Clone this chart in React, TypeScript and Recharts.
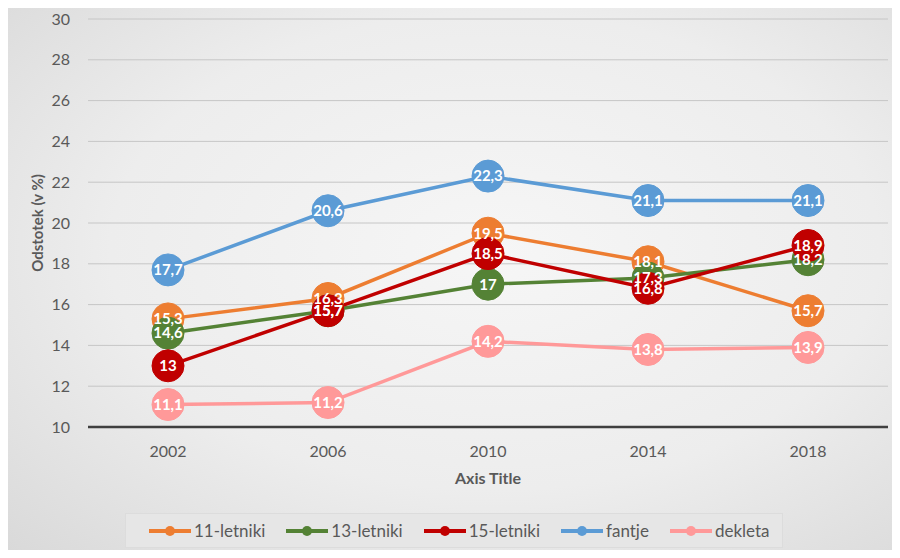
import { LabelList, Line, LineChart, CartesianGrid, XAxis, YAxis } from "recharts";

const years = ["2002", "2006", "2010", "2014", "2018"];
const age11 = [15.3, 16.3, 19.5, 18.1, 15.7];
const age13 = [14.6, 15.7, 17, 17.3, 18.2];
const age15 = [13, 15.7, 18.5, 16.8, 18.9];
const boys = [17.7, 20.6, 22.3, 21.1, 21.1];
const girls = [11.1, 11.2, 14.2, 13.8, 13.9];
const yTicks = [10, 12, 14, 16, 18, 20, 22, 24, 26, 28, 30];

const series = [
  { key: "a11", name: "11-letniki", color: "#ED7D31", values: age11 },
  { key: "a13", name: "13-letniki", color: "#548235", values: age13 },
  { key: "a15", name: "15-letniki", color: "#C00000", values: age15 },
  { key: "boys", name: "fantje", color: "#5B9BD5", values: boys },
  { key: "girls", name: "dekleta", color: "#FF9999", values: girls },
];

const data = years.map((year, i) => {
  const row: Record<string, string | number> = { year };
  series.forEach((s) => {
    row[s.key] = s.values[i];
  });
  return row;
});

const FONT = "Lato, 'Open Sans', sans-serif";
const TEXT = "#595959";

const fmt = (v: unknown) => String(v).replace(".", ",");

export default function App() {
  return (
    <div
      style={{
        position: "relative",
        width: 900,
        height: 558,
        margin: -8,
        fontFamily: FONT,
        background:
          "radial-gradient(ellipse at 55% 45%, #f6f6f6 0%, #ededed 55%, #d8d8d8 100%)",
        overflow: "hidden",
      }}
    >
      <LineChart
        width={900}
        height={558}
        data={data}
        margin={{ top: 19, right: 12, left: 28, bottom: 73 }}
        style={{ position: "absolute", left: 0, top: 0 }}
      >
        <CartesianGrid vertical={false} stroke="#c6c6c6" strokeWidth={1} />
        <XAxis
          dataKey="year"
          height={58}
          padding={{ left: 80, right: 80 }}
          tickLine={false}
          axisLine={{ stroke: "#3f3f3f", strokeWidth: 2.5 }}
          tickMargin={13}
          tick={{ fill: TEXT, fontSize: 16, fontFamily: FONT }}
          label={{
            value: "Axis Title",
            position: "insideBottom",
            offset: 1,
            fill: TEXT,
            fontSize: 16,
            fontWeight: 700,
            fontFamily: FONT,
          }}
        />
        <YAxis
          width={60}
          domain={[10, 30]}
          ticks={yTicks}
          interval={0}
          tickLine={false}
          axisLine={false}
          tickMargin={12}
          tick={{ fill: TEXT, fontSize: 16, fontFamily: FONT }}
          label={{
            value: "Odstotek (v %)",
            angle: -90,
            position: "insideLeft",
            offset: 10,
            fill: TEXT,
            fontSize: 15,
            fontWeight: 700,
            fontFamily: FONT,
            style: { textAnchor: "middle" },
          }}
        />
        {series.map((s) => (
          <Line
            key={s.key}
            dataKey={s.key}
            name={s.name}
            type="linear"
            stroke={s.color}
            strokeWidth={3.5}
            dot={{ r: 16, fill: s.color, stroke: s.color, strokeWidth: 1 }}
            activeDot={false}
            isAnimationActive={false}
          />
        ))}
        {/* labels drawn last so they sit above every marker, like Excel */}
        {series.map((s) => (
          <Line
            key={s.key + "-lbl"}
            dataKey={s.key}
            stroke="none"
            dot={false}
            activeDot={false}
            legendType="none"
            isAnimationActive={false}
          >
            <LabelList
              dataKey={s.key}
              position="center"
              formatter={fmt}
              fill="#ffffff"
              fontSize={15}
              fontWeight={700}
              fontFamily={FONT}
            />
          </Line>
        ))}
      </LineChart>
      <div
        style={{
          position: "absolute",
          left: 125,
          top: 513,
          width: 634,
          height: 33,
          background: "#e6e6e6",
          border: "1px solid #dcdcdc",
          display: "flex",
          alignItems: "center",
          paddingLeft: 22,
          boxSizing: "content-box",
          gap: 20,
        }}
      >
        {series.map((s) => (
          <div key={s.key} style={{ display: "flex", alignItems: "center" }}>
            <svg width={44} height={14}>
              <line x1={1} y1={7} x2={43} y2={7} stroke={s.color} strokeWidth={4} />
              <circle cx={22} cy={7} r={5} fill={s.color} />
            </svg>
            <span style={{ color: TEXT, fontSize: 17, marginLeft: 2 }}>{s.name}</span>
          </div>
        ))}
      </div>
    </div>
  );
}
